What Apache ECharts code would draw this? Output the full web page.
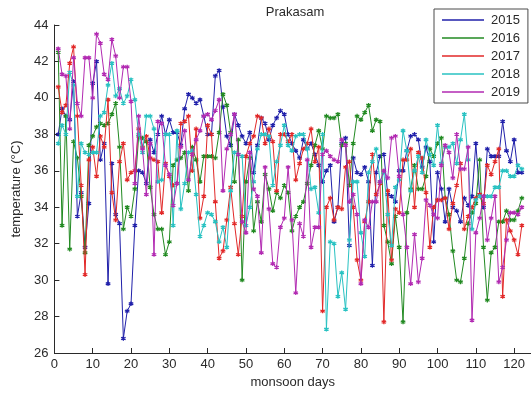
<!DOCTYPE html>
<html>
<head>
<meta charset="utf-8">
<title>Prakasam</title>
<script src="https://cdn.jsdelivr.net/npm/echarts@6/dist/echarts.min.js"></script>
<style>
  html, body { margin: 0; padding: 0; background: #ffffff; }
  #chart { width: 531px; height: 395px; }
</style>
</head>
<body>
<div id="chart"></div>
<script>
// Daily maximum temperature (°C) over the monsoon days, one list per year
const years = ['2015', '2016', '2017', '2018', '2019'];

const t2015 = [
  38.0, 39.4, 39.0, 38.8, 40.9, 33.5, 34.8, 31.8, 34.2, 40.8,
  42.0, 36.6, 37.5, 29.8, 36.4, 33.6, 33.1, 26.8, 28.3, 28.7,
  33.0, 36.0, 35.9, 35.3, 37.7, 37.0, 38.0, 39.0, 38.0, 38.8,
  38.1, 38.1, 37.4, 39.4, 40.2, 40.0, 39.7, 39.9, 39.0, 38.0,
  38.0, 41.2, 41.5, 39.5, 37.9, 37.4, 39.1, 38.5, 37.9, 37.5,
  38.1, 35.9, 37.4, 38.9, 38.6, 37.7, 38.5, 38.9, 39.3, 39.1,
  38.0, 37.5, 37.1, 36.7, 37.7, 37.2, 37.5, 36.9, 36.3, 35.4,
  36.0, 36.3, 33.2, 34.0, 37.5, 37.8, 31.9, 36.7, 35.9, 35.8,
  36.2, 35.4, 30.8, 35.9, 36.8, 36.9, 34.7, 34.6, 34.3, 36.0,
  36.0, 37.1, 37.9, 38.0, 37.7, 36.2, 37.3, 36.5, 32.1, 35.9,
  35.0, 33.2, 35.0, 34.0, 33.8, 33.2, 34.5, 34.1, 34.6, 37.5,
  34.7, 34.0, 37.2, 36.8, 36.8, 36.8, 38.7, 37.1, 36.5, 37.7,
  35.9, 35.9
];
const t2016 = [
  42.5, 33.0, 39.0, 31.7, 37.6, 36.7, 34.6, 31.5, 37.4, 37.9,
  38.4, 38.6, 38.5, 38.6, 39.1, 39.7, 37.3, 32.8, 34.0, 33.5,
  35.0, 37.9, 37.8, 37.6, 35.1, 33.6, 32.8, 32.8, 31.4, 32.1,
  36.3, 36.6, 36.7, 37.0, 34.9, 37.3, 36.6, 35.4, 36.8, 36.8,
  36.8, 36.7, 38.1, 40.2, 39.6, 38.1, 35.4, 37.7, 30.0, 35.4,
  36.7, 32.7, 34.3, 33.2, 35.8, 35.0, 33.8, 34.8, 34.5, 35.2,
  34.8, 32.7, 33.5, 34.0, 34.3, 35.3, 36.3, 37.4, 38.2, 37.2,
  39.0, 38.9, 38.9, 39.1, 37.4, 37.5, 35.2, 37.5, 39.0, 38.8,
  39.2, 39.6, 38.2, 38.8, 38.7, 33.0, 32.1, 30.9, 33.5, 31.8,
  27.7, 33.7, 35.0, 36.3, 35.0, 35.0, 35.7, 37.2, 36.8, 37.5,
  37.8, 34.5, 33.6, 31.6, 30.0, 29.9, 31.2, 33.1, 33.7, 34.2,
  36.6, 31.8, 28.9, 31.5, 31.8, 33.2, 33.2, 33.8, 33.3, 33.3,
  33.8, 34.5
];
const t2017 = [
  40.6, 39.2, 39.6, 41.9, 42.8, 39.0, 35.2, 30.3, 36.6, 37.3,
  35.7, 37.9, 37.3, 39.9, 34.8, 33.3, 36.5, 37.5, 35.5, 35.9,
  36.0, 38.3, 37.3, 37.9, 36.7, 36.6, 36.5, 33.7, 36.4, 35.7,
  35.2, 35.3, 38.6, 38.7, 39.0, 36.0, 38.3, 33.4, 34.6, 38.5,
  38.0, 34.3, 31.2, 31.6, 33.3, 35.1, 33.1, 31.4, 33.5, 36.8,
  37.5, 37.9, 39.0, 38.9, 37.5, 38.3, 37.6, 34.9, 38.0, 38.0,
  37.6, 38.0, 35.5, 36.4, 37.2, 37.5, 38.3, 36.5, 37.3, 28.3,
  34.0, 34.5, 33.3, 34.0, 33.9, 36.2, 36.5, 34.0, 31.1, 30.0,
  33.2, 34.3, 36.9, 34.7, 35.3, 27.7, 34.9, 31.1, 33.9, 33.7,
  36.6, 36.6, 37.2, 34.0, 37.0, 36.7, 34.8, 31.8, 34.0, 34.4,
  34.4, 34.5, 32.8, 34.2, 35.2, 36.4, 32.8, 33.5, 34.0, 34.5,
  34.7, 34.2, 36.3, 35.8, 36.5, 37.2, 29.1, 33.3, 32.7, 32.2,
  31.4, 33.0
];
const t2018 = [
  37.5, 38.5, 38.0, 41.4, 40.7, 34.6, 37.5, 37.0, 36.9, 37.0,
  37.0, 39.0, 39.2, 40.7, 41.9, 40.1, 40.5, 39.7, 40.1, 41.0,
  39.9, 38.0, 37.0, 39.0, 39.0, 38.3, 35.4, 35.5, 38.0, 38.0,
  33.0, 38.2, 33.9, 35.3, 37.0, 37.1, 34.7, 32.4, 33.0, 33.7,
  33.6, 33.2, 32.1, 32.9, 31.8, 34.9, 37.0, 36.9, 36.8, 33.0,
  34.0, 35.4, 37.2, 38.0, 38.0, 37.9, 35.2, 36.5, 37.4, 38.5,
  37.4, 37.1, 37.9, 38.0, 38.0, 37.2, 35.0, 35.1, 33.7, 38.0,
  27.3, 32.1, 32.0, 29.1, 30.4, 28.4, 32.2, 35.4, 35.4, 32.6,
  31.3, 35.9, 36.5, 37.2, 35.4, 35.9, 33.6, 31.9, 35.1, 35.5,
  38.2, 37.1, 34.9, 36.0, 36.8, 35.9, 37.7, 36.9, 36.3, 38.5,
  36.4, 37.3, 37.3, 37.5, 36.4, 37.7, 39.1, 36.6, 32.8, 34.4,
  34.6, 34.6, 34.6, 34.6, 35.1, 35.1, 36.0, 36.0, 35.7, 35.7,
  36.3, 36.1
];
const t2019 = [
  42.7, 41.3, 41.2, 38.3, 42.2, 39.7, 39.0, 42.2, 42.2, 40.0,
  43.5, 43.0, 41.3, 41.0, 43.2, 42.3, 40.0, 41.7, 41.7, 39.8,
  35.3, 39.0, 37.2, 34.7, 37.5, 31.4, 38.7, 38.6, 36.3, 35.8,
  34.1, 35.3, 37.3, 38.2, 35.5, 36.9, 37.7, 38.2, 39.0, 39.1,
  38.8, 39.3, 39.9, 34.9, 37.2, 38.0, 39.1, 36.9, 33.2, 32.6,
  37.0, 35.0, 34.6, 31.5, 36.2, 33.9, 30.9, 30.7, 32.9, 33.4,
  36.2, 33.3, 29.3, 33.1, 32.4, 36.6, 31.8, 32.9, 32.9, 36.9,
  37.1, 36.8, 36.6, 36.5, 37.7, 37.4, 34.3, 34.7, 33.6, 29.8,
  33.3, 32.9, 34.3, 34.3, 35.4, 36.0, 35.6, 37.8, 37.9, 35.7,
  33.6, 31.8, 29.8, 32.5, 29.9, 31.2, 34.4, 34.1, 33.6, 33.4,
  36.3, 37.4, 37.0, 35.6, 38.0, 36.1, 36.1, 37.3, 27.8, 32.6,
  33.4, 34.6, 32.2, 33.4, 34.6, 29.9, 30.7, 32.2, 33.7, 33.7,
  33.6, 34.0
];

const seriesValues = [t2015, t2016, t2017, t2018, t2019];
const colors = ['#2020aa', '#228a22', '#e22828', '#28c2c2', '#b22ab2'];

// six-armed asterisk marker
const asterisk = 'path://M0,-5L0,5M-4.33,-2.5L4.33,2.5M-4.33,2.5L4.33,-2.5';

const FONT = 'Liberation Sans, Arial, Helvetica, sans-serif';
const TEXT = '#2a2a2a';

const chart = echarts.init(document.getElementById('chart'), null, { renderer: 'canvas' });

chart.setOption({
  backgroundColor: '#ffffff',
  animation: false,
  title: {
    text: 'Prakasam',
    left: 290,
    top: 1,
    textAlign: 'center',
    textStyle: { fontFamily: FONT, fontSize: 13, fontWeight: 'normal', color: TEXT }
  },
  legend: {
    data: years,
    left: 434,
    top: 9,
    orient: 'vertical',
    icon: 'rect',
    itemWidth: 42,
    itemHeight: 1.5,
    itemGap: 4,
    padding: [4, 8, 4, 8],
    borderColor: '#4a4a4a',
    borderWidth: 1,
    borderRadius: 0,
    backgroundColor: '#ffffff',
    itemStyle: { borderWidth: 0 },
    lineStyle: { width: 0 },
    textStyle: { fontFamily: FONT, fontSize: 13, color: TEXT, lineHeight: 14, padding: [0, 0, 0, 2] }
  },
  grid: { left: 54.4, right: 0, top: 25, bottom: 42, containLabel: false },
  xAxis: {
    type: 'value',
    min: 0,
    max: 124.4,
    interval: 10,
    name: 'monsoon days',
    nameLocation: 'middle',
    nameGap: 22,
    nameTextStyle: { fontFamily: FONT, fontSize: 13, color: TEXT },
    axisLine: { lineStyle: { color: '#2a2a2a', width: 1 } },
    axisTick: { inside: true, length: 5, lineStyle: { color: '#2a2a2a' } },
    axisLabel: {
      fontFamily: FONT, fontSize: 13, color: TEXT, margin: 5,
      showMaxLabel: false,
      formatter: v => (v % 10 === 0 ? String(v) : '')
    },
    splitLine: { show: false }
  },
  yAxis: {
    type: 'value',
    min: 26,
    max: 44,
    interval: 2,
    name: 'temperature (°C)',
    nameLocation: 'middle',
    nameGap: 27,
    nameRotate: 90,
    nameTextStyle: { fontFamily: FONT, fontSize: 13, color: TEXT },
    axisLine: { show: true, lineStyle: { color: '#2a2a2a', width: 1 } },
    axisTick: { show: true, inside: true, length: 5, lineStyle: { color: '#2a2a2a' } },
    axisLabel: { fontFamily: FONT, fontSize: 13, color: TEXT, margin: 6 },
    splitLine: { show: false }
  },
  series: years.map((name, k) => ({
    name,
    type: 'line',
    data: seriesValues[k].map((v, i) => [i + 1, v]),
    symbol: asterisk,
    symbolSize: 4.5,
    showSymbol: true,
    lineStyle: { color: colors[k], width: 1 },
    itemStyle: { color: colors[k], borderColor: colors[k], borderWidth: 1.3 },
    emphasis: { disabled: true },
    z: 2 + k
  }))
});
</script>
</body>
</html>
